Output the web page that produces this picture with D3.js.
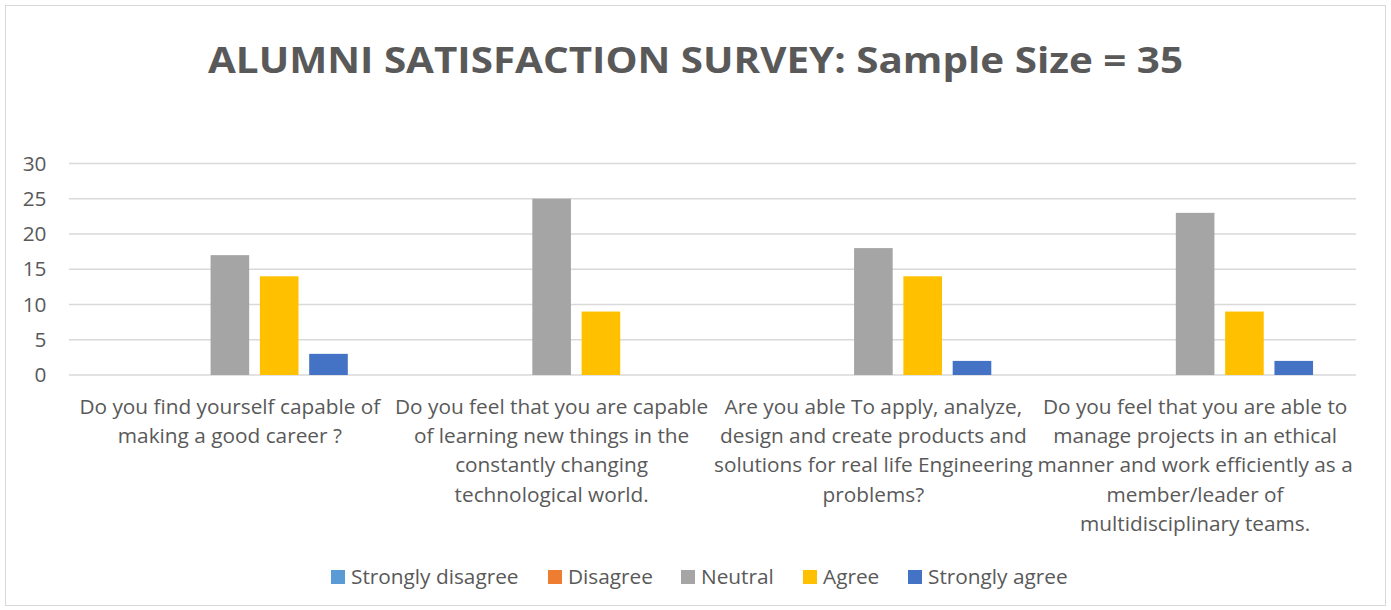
<!DOCTYPE html>
<html>
<head>
<meta charset="utf-8">
<script src="https://cdn.jsdelivr.net/npm/d3@7"></script>
<style>
  html, body { margin: 0; padding: 0; background: #fff; }
  svg { display: block; }
  text { font-family: "Open Sans", "Noto Sans", sans-serif; fill: #595959; }
</style>
</head>
<body>
<svg id="chart" width="1391" height="610"></svg>
<script>
// Survey questions, each pre-split into the lines shown under the axis
const categories = [
  ["Do you find yourself capable of", "making a good career ?"],
  ["Do you feel that you are capable", "of learning new things in the", "constantly changing", "technological world."],
  ["Are you able To apply, analyze,", "design and create products and", "solutions for real life Engineering", "problems?"],
  ["Do you feel that you are able to", "manage projects in an ethical", "manner and work efficiently as a", "member/leader of", "multidisciplinary teams."]
];
const seriesNames = ["Strongly disagree", "Disagree", "Neutral", "Agree", "Strongly agree"];
const seriesColors = ["#5B9BD5", "#ED7D31", "#A5A5A5", "#FFC000", "#4472C4"];

// Responses per question (one array per answer option)
const stronglyDisagree = [0, 0, 0, 0];
const disagree         = [0, 0, 0, 0];
const neutral          = [17, 25, 18, 23];
const agree            = [14, 9, 14, 9];
const stronglyAgree    = [3, 0, 2, 2];
const seriesValues = [stronglyDisagree, disagree, neutral, agree, stronglyAgree];

const yTicks = [0, 5, 10, 15, 20, 25, 30];
const titleText = "ALUMNI SATISFACTION SURVEY: Sample Size = 35";

const svg = d3.select("#chart");
const labelSize = 20.8;

// chart frame
svg.append("rect")
  .attr("x", 5.5).attr("y", 5.5)
  .attr("width", 1380).attr("height", 600)
  .attr("fill", "#fff").attr("stroke", "#d9d9d9").attr("stroke-width", 1);

// title
svg.append("text")
  .attr("x", 695.5).attr("y", 73)
  .attr("text-anchor", "middle")
  .attr("font-size", 35).attr("font-weight", 700)
  .attr("textLength", 975).attr("lengthAdjust", "spacingAndGlyphs")
  .text(titleText);

const plot = { left: 69, right: 1356, top: 163.5, bottom: 375 };

const x0 = d3.scaleBand()
  .domain(d3.range(categories.length))
  .range([plot.left, plot.right])
  .padding(0);

// inner band for the five answer options, with a gap on each side of a group
const groupGap = x0.bandwidth() * 0.1335;
const x1 = d3.scaleBand()
  .domain(d3.range(seriesNames.length))
  .range([groupGap, x0.bandwidth() - groupGap])
  .paddingInner(0.217)
  .paddingOuter(0);

const y = d3.scaleLinear().domain([0, 30]).range([plot.bottom, plot.top]);

// gridlines
svg.append("g")
  .selectAll("line")
  .data(yTicks)
  .join("line")
  .attr("x1", plot.left).attr("x2", plot.right)
  .attr("y1", d => y(d)).attr("y2", d => y(d))
  .attr("stroke", "#d9d9d9").attr("stroke-width", 1.5);

// y axis labels
const yAxis = d3.axisLeft(y).tickValues(yTicks).tickSize(0).tickPadding(0);
const yg = svg.append("g").attr("transform", `translate(${plot.left - 22.5},0)`).call(yAxis);
yg.select(".domain").remove();
yg.selectAll("text")
  .attr("font-size", labelSize)
  .attr("fill", "#595959")
  .style("font-family", '"Open Sans", sans-serif');

// bars
const groups = svg.append("g")
  .selectAll("g")
  .data(categories.map((c, i) => i))
  .join("g")
  .attr("transform", i => `translate(${x0(i)},0)`);

groups.selectAll("rect")
  .data(i => seriesValues.map((vals, s) => ({ s, v: vals[i] })))
  .join("rect")
  .filter(d => d.v > 0)
  .attr("x", d => x1(d.s))
  .attr("width", x1.bandwidth())
  .attr("y", d => y(d.v))
  .attr("height", d => y(0) - y(d.v))
  .attr("fill", d => seriesColors[d.s]);

// category labels
const labelG = svg.append("g");
categories.forEach((lines, i) => {
  const t = labelG.append("text")
    .attr("text-anchor", "middle")
    .attr("font-size", labelSize);
  lines.forEach((ln, k) => {
    t.append("tspan")
      .attr("x", x0(i) + x0.bandwidth() / 2)
      .attr("y", 414 + k * 29.2)
      .text(ln);
  });
});

// legend
const legend = svg.append("g");
const legendXs = [331, 548, 681, 803, 908];
seriesNames.forEach((name, s) => {
  legend.append("rect")
    .attr("x", legendXs[s]).attr("y", 570)
    .attr("width", 14).attr("height", 14)
    .attr("fill", seriesColors[s]);
  legend.append("text")
    .attr("x", legendXs[s] + 20).attr("y", 584)
    .attr("font-size", labelSize)
    .text(name);
});
</script>
</body>
</html>
